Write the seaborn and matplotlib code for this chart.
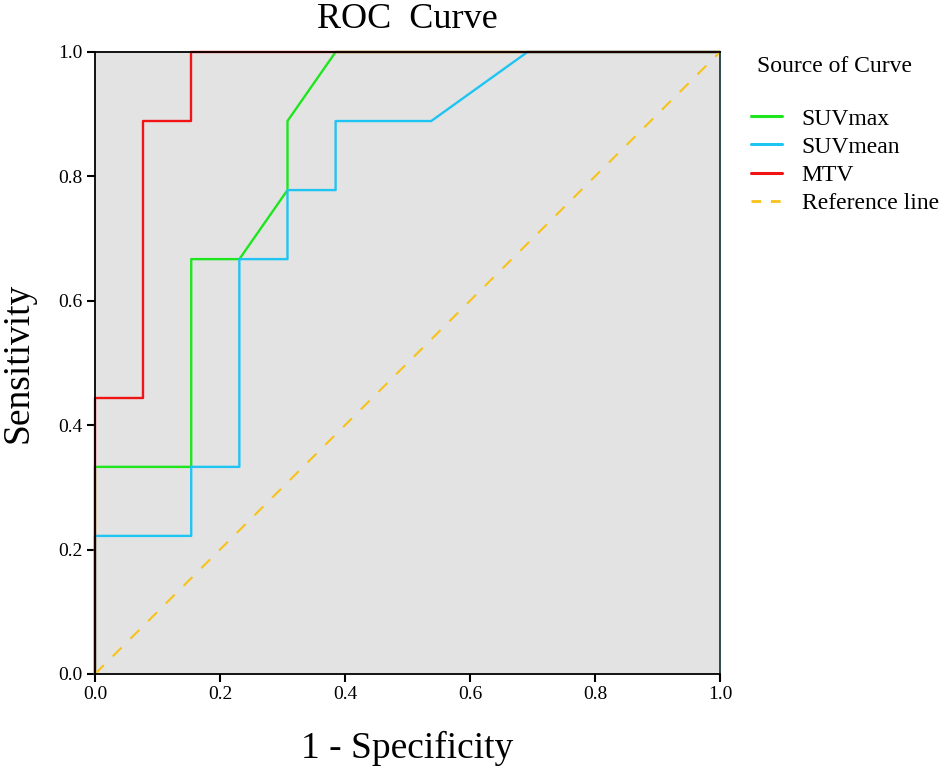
import matplotlib
matplotlib.use("Agg")
import matplotlib.pyplot as plt
import seaborn as sns
import pandas as pd
from matplotlib.lines import Line2D

# ROC curve data (13 negatives, 9 positives)
suvmax_fpr = [0.0, 0.0, 0.154, 0.154, 0.231, 0.308, 0.308, 0.385, 1.0]
suvmax_tpr = [0.0, 0.333, 0.333, 0.667, 0.667, 0.778, 0.889, 1.0, 1.0]

suvmean_fpr = [0.0, 0.0, 0.154, 0.154, 0.231, 0.231, 0.308, 0.308, 0.385, 0.385, 0.538, 0.692, 1.0]
suvmean_tpr = [0.0, 0.222, 0.222, 0.333, 0.333, 0.667, 0.667, 0.778, 0.778, 0.889, 0.889, 1.0, 1.0]

mtv_fpr = [0.0, 0.0, 0.077, 0.077, 0.154, 0.154, 1.0]
mtv_tpr = [0.0, 0.444, 0.444, 0.889, 0.889, 1.0, 1.0]

ref_x = [0.0, 1.0]
ref_y = [0.0, 1.0]

series_names = ["SUVmax", "SUVmean", "MTV", "Reference line"]
ticks = [0.0, 0.2, 0.4, 0.6, 0.8, 1.0]
tick_labels = ["0.0", "0.2", "0.4", "0.6", "0.8", "1.0"]

colors = {"SUVmax": "#1ee61e", "SUVmean": "#1ec4f2", "MTV": "#f01414", "Reference line": "#f7c21a"}

sns.set_theme(style="white")
plt.rcParams['font.family'] = ['Liberation Serif', 'DejaVu Serif']
plt.rcParams['text.color'] = 'black'
plt.rcParams['axes.labelcolor'] = 'black'

fig = plt.figure(figsize=(9.45, 7.68), dpi=100)
ax = fig.add_axes([0.1005, 0.1224, 0.6614, 0.8099])
ax.set_facecolor("#e3e3e3")

frames = []
for name, xs, ys in [("SUVmax", suvmax_fpr, suvmax_tpr),
                     ("SUVmean", suvmean_fpr, suvmean_tpr),
                     ("MTV", mtv_fpr, mtv_tpr)]:
    frames.append(pd.DataFrame({"fpr": xs, "tpr": ys, "curve": name}))
df = pd.concat(frames, ignore_index=True)

for name in ["SUVmax", "SUVmean", "MTV"]:
    sub = df[df["curve"] == name]
    sns.lineplot(data=sub, x="fpr", y="tpr", sort=False, estimator=None,
                 color=colors[name], linewidth=1.7, ax=ax, legend=False)
    ax.lines[-1].set_clip_on(False)

ref_df = pd.DataFrame({"x": ref_x, "y": ref_y})
sns.lineplot(data=ref_df, x="x", y="y", sort=False, estimator=None, ax=ax,
             color=colors["Reference line"], linewidth=1.5, legend=False)
ax.lines[-1].set_dashes([6, 6])

ax.set_xlim(0, 1)
ax.set_ylim(0, 1)
ax.set_xticks(ticks)
ax.set_xticklabels(tick_labels)
ax.set_yticks(ticks)
ax.set_yticklabels(tick_labels)
ax.tick_params(axis="both", direction="out", length=6, width=1.5, color="black",
               labelsize=14, labelcolor="black", pad=3, bottom=True, left=True)
for side in ["left", "bottom", "top", "right"]:
    ax.spines[side].set_visible(True)
    ax.spines[side].set_color("black")
    ax.spines[side].set_linewidth(1.3)
ax.spines["right"].set_color("#1f3a3a")

ax.set_xlabel("1 - Specificity", fontsize=27, labelpad=20, color="black")
ax.set_ylabel("Sensitivity", fontsize=27, labelpad=16, color="black")
ax.set_title("ROC  Curve", fontsize=26, pad=17, color="black")

fig.text(757 / 945, 1 - 66 / 768, "Source of Curve", fontsize=17, va="center", ha="left", color="black")

handles = []
for name in series_names:
    if name == "Reference line":
        h = Line2D([0], [0], color=colors[name], linewidth=2, dashes=[3.5, 3.5])
    else:
        h = Line2D([0], [0], color=colors[name], linewidth=2.2)
    handles.append(h)
leg = fig.legend(handles, series_names, loc="upper left",
                 bbox_to_anchor=(751 / 945, 1 - 108 / 768), frameon=False,
                 fontsize=17, handlelength=1.3, handletextpad=0.85,
                 labelspacing=0.28, borderaxespad=0, borderpad=0,
                 labelcolor="black")

fig.savefig("out.png", dpi=100)
